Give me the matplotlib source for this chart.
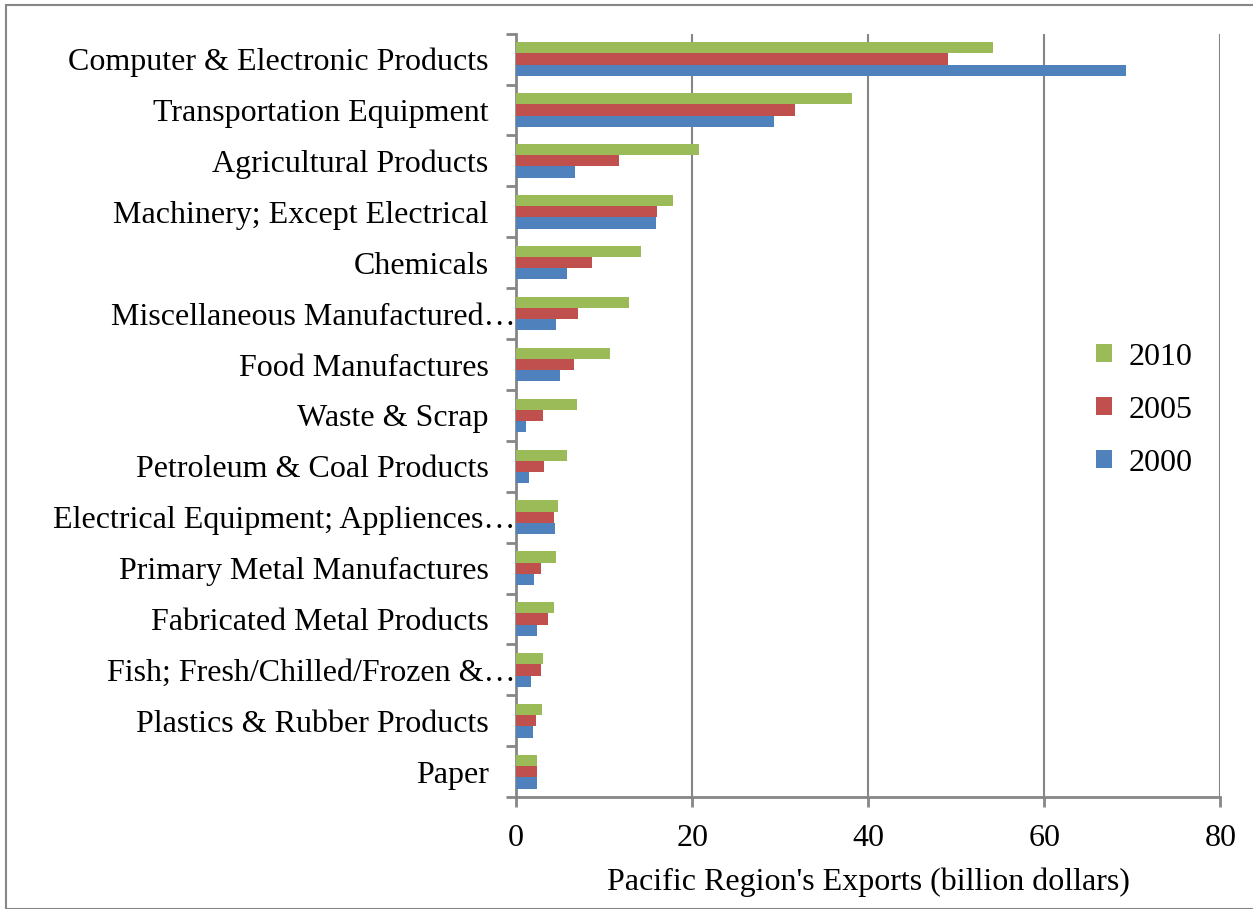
import matplotlib.pyplot as plt
import matplotlib.transforms as mtransforms
import numpy as np

categories = [
    "Computer & Electronic Products",
    "Transportation Equipment",
    "Agricultural Products",
    "Machinery; Except Electrical",
    "Chemicals",
    "Miscellaneous Manufactured\u2026",
    "Food Manufactures",
    "Waste & Scrap",
    "Petroleum & Coal Products",
    "Electrical Equipment; Appliences\u2026",
    "Primary Metal Manufactures",
    "Fabricated Metal Products",
    "Fish; Fresh/Chilled/Frozen &\u2026",
    "Plastics & Rubber Products",
    "Paper",
]
exports_2010 = [54.2, 38.1, 20.8, 17.8, 14.2, 12.8, 10.7, 6.9, 5.8, 4.8, 4.5, 4.3, 3.0, 2.9, 2.4]
exports_2005 = [49.0, 31.7, 11.7, 16.0, 8.6, 7.0, 6.6, 3.0, 3.1, 4.3, 2.8, 3.6, 2.8, 2.3, 2.4]
exports_2000 = [69.3, 29.3, 6.7, 15.9, 5.8, 4.5, 5.0, 1.1, 1.5, 4.4, 2.0, 2.4, 1.7, 1.9, 2.4]

plt.rcParams['font.family'] = ['Liberation Serif', 'DejaVu Serif']

fig = plt.figure(figsize=(12.53, 9.09), dpi=100)
ax = fig.add_axes([0.412, 0.123, 0.562, 0.840])

n = len(categories)
y = np.arange(n)[::-1]
h = 0.22

ax.barh(y + h, exports_2010, height=h, color='#9bbb59', label='2010', zorder=3)
ax.barh(y, exports_2005, height=h, color='#c0504d', label='2005', zorder=3)
ax.barh(y - h, exports_2000, height=h, color='#4f81bd', label='2000', zorder=3)

ax.set_xlim(0, 80)
ax.set_ylim(-0.5, n - 0.5)
ax.set_xticks([0, 20, 40, 60, 80])
ax.set_yticks(y)
ax.set_yticklabels(categories)
ax.set_yticks(np.arange(n + 1) - 0.5, minor=True)
ax.tick_params(axis='y', which='major', length=0, pad=20, labelsize=23)
ax.tick_params(axis='y', which='minor', length=7, width=2, color='#868686')
ax.tick_params(axis='x', which='major', length=7, width=2, color='#868686', pad=12, labelsize=23)

# truncated labels run up to the axis, like in the original
for lab in ax.get_yticklabels():
    if lab.get_text().endswith('\u2026'):
        lab.set_transform(lab.get_transform() +
                          mtransforms.ScaledTranslation(27 / 100, 0, fig.dpi_scale_trans))

ax.grid(axis='x', color='#868686', linewidth=1.5, zorder=0)
for s in ['top', 'right']:
    ax.spines[s].set_visible(False)
for s in ['left', 'bottom']:
    ax.spines[s].set_color('#868686')
    ax.spines[s].set_linewidth(2)

ax.set_xlabel("Pacific Region's Exports (billion dollars)", fontsize=23, labelpad=11)

ax.legend(loc='center left', bbox_to_anchor=(0.783, 0.507), frameon=False,
          fontsize=23, handlelength=0.5, handleheight=0.5, labelspacing=0.75,
          handletextpad=0.5)

fig.patches.append(plt.Rectangle((0.005, 0.0), 1.2, 0.994, transform=fig.transFigure,
                                 fill=False, edgecolor='#868686', linewidth=1.5))

fig.savefig('out.png', dpi=100)
